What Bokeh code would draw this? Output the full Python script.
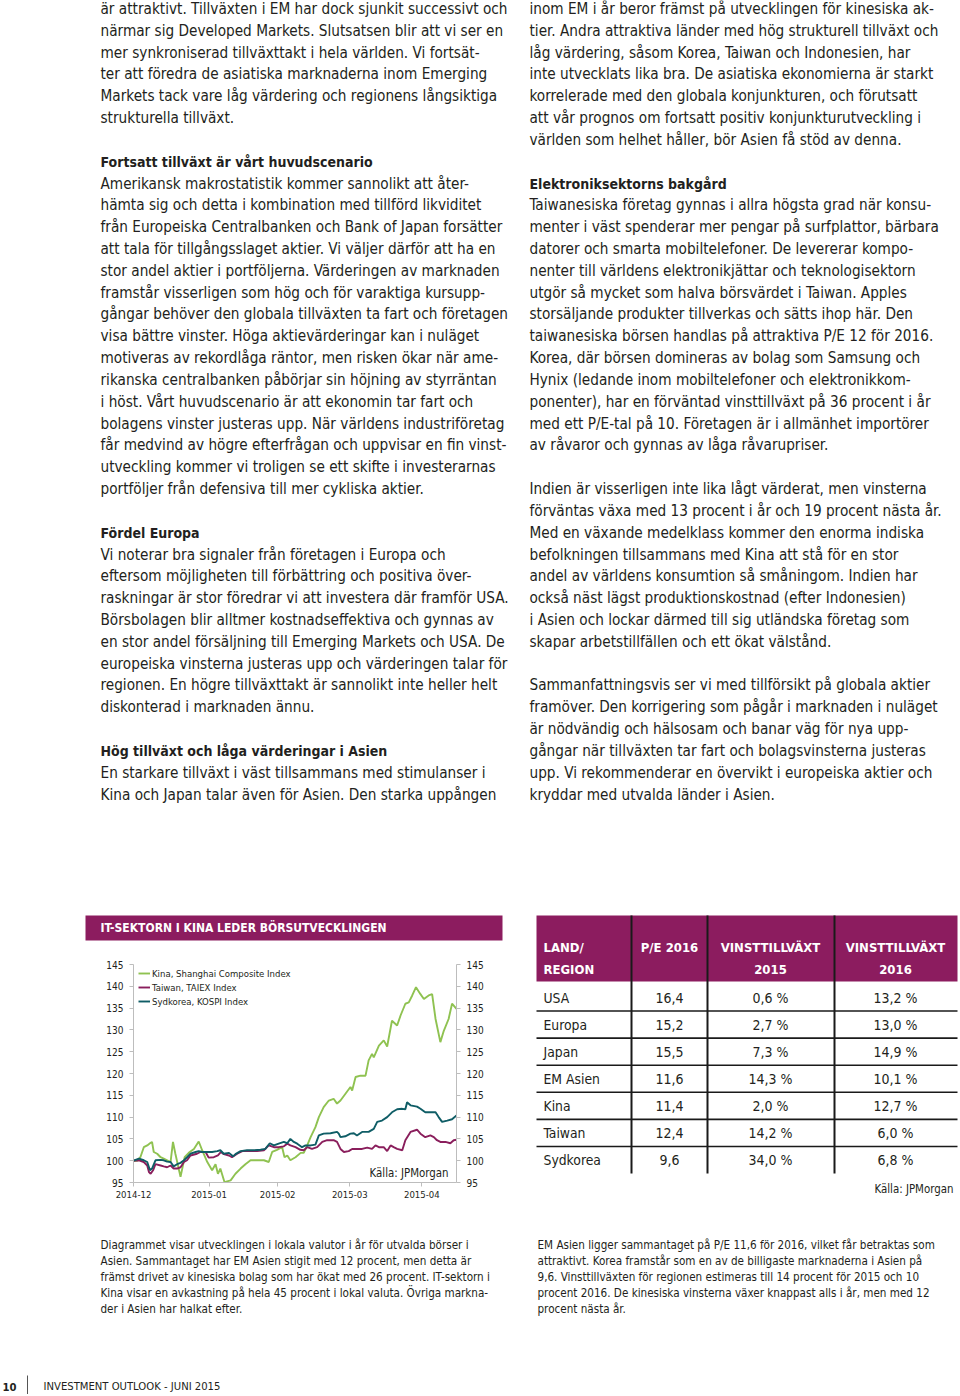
from bokeh.plotting import figure
from bokeh.models import Range1d, FixedTicker, LinearAxis, Label, ColumnDataSource
from bokeh.layouts import column, row
from bokeh.core.properties import value
from bokeh.embed import file_html
from bokeh.resources import INLINE

# ---------------- data ----------------
# Chart: indexed stock markets (trading-day index from 2014-12-01)
month_ticks = [0, 22, 42, 63, 84]
month_labels = ["2014-12", "2015-01", "2015-02", "2015-03", "2015-04"]
y_ticks = [95, 100, 105, 110, 115, 120, 125, 130, 135, 140, 145]

kina_x = [0, 1.1, 2.0, 3.0, 4.0, 5.0, 5.4, 5.9, 6.9, 7.9,
          8.8, 9.8, 10.8, 11.5, 12.2, 13.7, 14.9, 16.1, 17.6, 19.0,
          20.0, 21.5, 22.9, 23.9, 24.6, 25.3, 26.5, 28.3, 29.7, 31.2,
          32.6, 34.1, 36.0, 38.0, 39.4, 40.4, 41.8, 43.3, 44.0, 44.8,
          45.7, 47.2, 48.7, 49.6, 50.6, 51.6, 53.0, 54.0, 55.4, 56.9,
          58.3, 59.3, 60.3, 61.7, 63.2, 63.7, 64.7, 66.1, 67.6, 68.5,
          69.5, 70.0, 71.5, 72.9, 73.9, 75.3, 76.8, 77.8, 79.2, 80.2,
          81.2, 82.3, 83.6, 84.6, 86.0, 87.0, 88.0, 89.4, 90.4, 91.8,
          92.8, 94.1]
kina_y = [100.0, 100.0, 100.8, 103.1, 103.5, 104.1, 104.3, 102.0, 101.6, 100.8,
          100.5, 100.1, 99.7, 104.3, 101.6, 96.3, 100.8, 101.8, 102.7, 104.4,
          102.4, 99.7, 97.8, 99.2, 97.0, 98.2, 95.1, 95.5, 97.0, 98.2,
          99.2, 100.1, 100.1, 100.1, 99.7, 102.0, 102.5, 103.1, 100.8, 101.2,
          100.1, 100.8, 101.8, 101.8, 103.5, 105.4, 107.7, 110.0, 112.3, 113.8,
          114.2, 113.1, 113.8, 115.3, 116.9, 116.1, 119.2, 119.5, 119.5, 123.0,
          124.5, 123.7, 126.4, 127.6, 126.2, 132.1, 131.0, 133.3, 136.0, 136.3,
          137.9, 139.8, 138.2, 137.1, 137.9, 138.2, 132.5, 127.2, 129.8, 132.5,
          136.0, 134.8]

taiwan_x = [0, 1.6, 3.0, 4.0, 4.5, 5.0, 5.7, 6.4, 7.9, 8.8,
            9.8, 10.8, 11.7, 12.7, 13.7, 14.7, 15.6, 16.6, 18.5, 19.5,
            21.0, 21.9, 23.4, 24.6, 25.5, 26.3, 27.8, 28.7, 30.2, 31.7,
            33.6, 36.0, 38.0, 39.4, 40.9, 42.3, 43.8, 44.8, 45.7, 47.2,
            48.6, 49.6, 50.6, 52.0, 53.5, 55.0, 56.4, 58.3, 59.3, 60.3,
            61.3, 62.7, 63.7, 65.1, 66.6, 68.1, 69.5, 70.5, 71.5, 72.9,
            73.9, 74.9, 75.8, 76.8, 78.3, 79.2, 80.7, 82.6, 83.6, 85.0,
            86.5, 87.5, 88.4, 89.4, 90.9, 92.3, 93.3, 94.1]
taiwan_y = [100.0, 100.1, 99.7, 98.9, 97.4, 97.0, 97.8, 99.2, 98.9, 98.7,
            98.5, 98.9, 98.2, 98.2, 98.5, 99.7, 100.1, 101.2, 101.6, 102.0,
            102.0, 100.7, 100.8, 101.2, 102.0, 101.5, 101.2, 100.8, 101.6, 102.2,
            102.2, 102.2, 102.4, 103.5, 103.1, 103.1, 103.3, 103.9, 103.5, 103.1,
            102.5, 102.4, 103.1, 102.7, 103.1, 104.3, 104.7, 104.7, 104.3, 102.7,
            102.0, 102.2, 102.7, 102.7, 102.7, 103.0, 102.7, 103.5, 103.1, 103.1,
            102.2, 103.5, 103.1, 102.7, 102.4, 104.7, 106.6, 107.1, 106.2, 105.4,
            105.8, 105.4, 104.7, 104.3, 104.3, 104.0, 104.7, 104.8]

korea_x = [0, 1.6, 3.0, 4.0, 4.8, 5.4, 6.4, 7.9, 8.8, 9.8,
           10.8, 11.7, 12.7, 13.7, 14.7, 15.6, 16.6, 18.1, 19.0, 20.0,
           21.5, 22.9, 24.4, 25.3, 26.3, 27.8, 29.0, 29.7, 31.2, 33.1,
           35.0, 37.0, 38.4, 39.7, 40.9, 42.3, 43.8, 44.8, 45.7, 46.7,
           47.7, 49.1, 50.1, 51.6, 53.0, 54.0, 55.4, 57.4, 59.3, 59.8,
           60.3, 61.7, 63.2, 64.2, 65.1, 66.6, 68.5, 70.0, 71.0, 72.4,
           73.9, 75.3, 76.8, 78.3, 79.2, 79.7, 80.7, 82.6, 83.6, 85.0,
           86.5, 88.0, 88.9, 89.9, 91.4, 92.8, 94.1]
korea_y = [100.0, 100.5, 100.1, 99.7, 97.8, 98.2, 100.1, 100.2, 100.1, 99.8,
           99.7, 98.7, 99.2, 99.5, 100.1, 100.8, 101.6, 102.0, 102.2, 102.0,
           102.0, 102.0, 102.2, 102.4, 101.6, 101.8, 101.0, 101.5, 102.2, 102.4,
           102.4, 102.5, 102.7, 104.0, 103.5, 103.9, 104.3, 104.0, 105.0, 104.3,
           103.9, 103.1, 103.5, 103.5, 103.7, 105.8, 106.2, 106.3, 106.6, 106.2,
           105.4, 105.6, 106.2, 106.3, 105.8, 106.6, 106.6, 107.3, 108.9, 109.2,
           110.0, 111.1, 111.8, 111.9, 111.8, 113.4, 112.7, 112.4, 111.9, 111.1,
           111.1, 111.1, 110.0, 108.9, 109.2, 109.5, 110.4]

series_names = ["Kina, Shanghai Composite Index", "Taiwan, TAIEX Index", "Sydkorea, KOSPI Index"]

# Table
table_header = [["LAND/", "REGION"], ["P/E 2016"], ["VINSTTILLVÄXT", "2015"], ["VINSTTILLVÄXT", "2016"]]
regions = ["USA", "Europa", "Japan", "EM Asien", "Kina", "Taiwan", "Sydkorea"]
pe_2016 = [16.4, 15.2, 15.5, 11.6, 11.4, 12.4, 9.6]
growth_2015 = [0.6, 2.7, 7.3, 14.3, 2.0, 14.2, 34.0]
growth_2016 = [13.2, 13.0, 14.9, 10.1, 12.7, 6.0, 6.8]

# Texts
chart_title = "IT-SEKTORN I KINA LEDER BÖRSUTVECKLINGEN"
source_note = "Källa: JPMorgan"

left_col = [
    "är attraktivt. Tillväxten i EM har dock sjunkit successivt och",
    "närmar sig Developed Markets. Slutsatsen blir att vi ser en",
    "mer synkroniserad tillväxttakt i hela världen. Vi fortsät-",
    "ter att föredra de asiatiska marknaderna inom Emerging",
    "Markets tack vare låg värdering och regionens långsiktiga",
    "strukturella tillväxt.",
    "",
    "Fortsatt tillväxt är vårt huvudscenario",
    "Amerikansk makrostatistik kommer sannolikt att åter-",
    "hämta sig och detta i kombination med tillförd likviditet",
    "från Europeiska Centralbanken och Bank of Japan forsätter",
    "att tala för tillgångsslaget aktier. Vi väljer därför att ha en",
    "stor andel aktier i portföljerna. Värderingen av marknaden",
    "framstår visserligen som hög och för varaktiga kursupp-",
    "gångar behöver den globala tillväxten ta fart och företagen",
    "visa bättre vinster. Höga aktievärderingar kan i nuläget",
    "motiveras av rekordlåga räntor, men risken ökar när ame-",
    "rikanska centralbanken påbörjar sin höjning av styrräntan",
    "i höst. Vårt huvudscenario är att ekonomin tar fart och",
    "bolagens vinster justeras upp. När världens industriföretag",
    "får medvind av högre efterfrågan och uppvisar en fin vinst-",
    "utveckling kommer vi troligen se ett skifte i investerarnas",
    "portföljer från defensiva till mer cykliska aktier.",
    "",
    "Fördel Europa",
    "Vi noterar bra signaler från företagen i Europa och",
    "eftersom möjligheten till förbättring och positiva över-",
    "raskningar är stor föredrar vi att investera där framför USA.",
    "Börsbolagen blir alltmer kostnadseffektiva och gynnas av",
    "en stor andel försäljning till Emerging Markets och USA. De",
    "europeiska vinsterna justeras upp och värderingen talar för",
    "regionen. En högre tillväxttakt är sannolikt inte heller helt",
    "diskonterad i marknaden ännu.",
    "",
    "Hög tillväxt och låga värderingar i Asien",
    "En starkare tillväxt i väst tillsammans med stimulanser i",
    "Kina och Japan talar även för Asien. Den starka uppången",
]
left_headings = [7, 24, 34]

right_col = [
    "inom EM i år beror främst på utvecklingen för kinesiska ak-",
    "tier. Andra attraktiva länder med hög strukturell tillväxt och",
    "låg värdering, såsom Korea, Taiwan och Indonesien, har",
    "inte utvecklats lika bra. De asiatiska ekonomierna är starkt",
    "korrelerade med den globala konjunkturen, och förutsatt",
    "att vår prognos om fortsatt positiv konjunkturutveckling i",
    "världen som helhet håller, bör Asien få stöd av denna.",
    "",
    "Elektroniksektorns bakgård",
    "Taiwanesiska företag gynnas i allra högsta grad när konsu-",
    "menter i väst spenderar mer pengar på surfplattor, bärbara",
    "datorer och smarta mobiltelefoner. De levererar kompo-",
    "nenter till världens elektronikjättar och teknologisektorn",
    "utgör så mycket som halva börsvärdet i Taiwan. Apples",
    "storsäljande produkter tillverkas och sätts ihop här. Den",
    "taiwanesiska börsen handlas på attraktiva P/E 12 för 2016.",
    "Korea, där börsen domineras av bolag som Samsung och",
    "Hynix (ledande inom mobiltelefoner och elektronikkom-",
    "ponenter), har en förväntad vinsttillväxt på 36 procent i år",
    "med ett P/E-tal på 10. Företagen är i allmänhet importörer",
    "av råvaror och gynnas av låga råvarupriser.",
    "",
    "Indien är visserligen inte lika lågt värderat, men vinsterna",
    "förväntas växa med 13 procent i år och 19 procent nästa år.",
    "Med en växande medelklass kommer den enorma indiska",
    "befolkningen tillsammans med Kina att stå för en stor",
    "andel av världens konsumtion så småningom. Indien har",
    "också näst lägst produktionskostnad (efter Indonesien)",
    "i Asien och lockar därmed till sig utländska företag som",
    "skapar arbetstillfällen och ett ökat välstånd.",
    "",
    "Sammanfattningsvis ser vi med tillförsikt på globala aktier",
    "framöver. Den korrigering som pågår i marknaden i nuläget",
    "är nödvändig och hälsosam och banar väg för nya upp-",
    "gångar när tillväxten tar fart och bolagsvinsterna justeras",
    "upp. Vi rekommenderar en övervikt i europeiska aktier och",
    "kryddar med utvalda länder i Asien.",
]
right_headings = [8]

caption_left = [
    "Diagrammet visar utvecklingen i lokala valutor i år för utvalda börser i",
    "Asien. Sammantaget har EM Asien stigit med 12 procent, men detta är",
    "främst drivet av kinesiska bolag som har ökat med 26 procent. IT-sektorn i",
    "Kina visar en avkastning på hela 45 procent i lokal valuta. Övriga markna-",
    "der i Asien har halkat efter.",
]
caption_right = [
    "EM Asien ligger sammantaget på P/E 11,6 för 2016, vilket får betraktas som",
    "attraktivt. Korea framstår som en av de billigaste marknaderna i Asien på",
    "9,6. Vinsttillväxten för regionen estimeras till 14 procent för 2015 och 10",
    "procent 2016. De kinesiska vinsterna växer knappast alls i år, men med 12",
    "procent nästa år.",
]
page_number = "10"
footer = "INVESTMENT OUTLOOK - JUNI 2015"

# ---------------- style ----------------
FONT = "DejaVu Sans Condensed"
INK = "#231F20"
PLUM = "#8C1C5F"
GREEN = "#8FC251"
PURPLE = "#8A1E5C"
TEAL = "#0F5D66"
AXIS = "#BDBDBD"


def page_fig(w, h, x0, x1, y0, y1):
    p = figure(width=w, height=h, x_range=Range1d(x0, x1), y_range=Range1d(y1, y0),
               output_backend="svg", toolbar_location=None,
               x_axis_location=None, y_axis_location=None, min_border=0,
               outline_line_color=None, frame_align=False)
    p.grid.visible = False
    return p


def add_text(p, xs, ys, texts, size, color=INK, style="normal", align="left"):
    src = ColumnDataSource(dict(x=xs, y=ys, text=texts))
    p.text(x="x", y="y", text="text", source=src, text_font=value(FONT),
           text_font_size=value(size), text_font_style=style, text_color=color,
           text_align=align, text_baseline="middle")


# ---------------- top: article text ----------------
top = page_fig(960, 908, 0, 960, 0, 908)
PITCH = 21.82
for col_x, lines, heads in ((100, left_col, left_headings), (529, right_col, right_headings)):
    bx, by, bt, hx, hy, ht = [], [], [], [], [], []
    for i, t in enumerate(lines):
        if not t:
            continue
        y = 8.5 + PITCH * i
        if i in heads:
            hx.append(col_x); hy.append(y); ht.append(t)
        else:
            bx.append(col_x); by.append(y); bt.append(t)
    add_text(top, bx, by, bt, "15.2px")
    add_text(top, hx, hy, ht, "14px", style="bold")

# ---------------- chart title bar ----------------
tfig = page_fig(520, 37, 0, 520, 908, 945)
tfig.quad(left=85, right=502, top=915, bottom=940, fill_color=PLUM, line_color=None)
add_text(tfig, [100], [927.5], [chart_title], "12px", color="white", style="bold")

# ---------------- line chart ----------------
chart = figure(width=520, height=275, x_range=Range1d(0, 94.1), y_range=Range1d(95, 145),
               output_backend="svg", toolbar_location=None, frame_align=False,
               min_border_left=133, min_border_right=64, min_border_top=19, min_border_bottom=38,
               outline_line_color=None)
chart.grid.visible = False
for xs, ys, c, name in ((kina_x, kina_y, GREEN, series_names[0]),
                        (taiwan_x, taiwan_y, PURPLE, series_names[1]),
                        (korea_x, korea_y, TEAL, series_names[2])):
    chart.line(xs, ys, line_color=c, line_width=1.9, legend_label=name)

right_axis = LinearAxis()
chart.add_layout(right_axis, "right")
for ax in chart.yaxis:
    ax.ticker = FixedTicker(ticks=y_ticks)
for ax in list(chart.yaxis) + list(chart.xaxis):
    ax.axis_line_color = AXIS
    ax.major_tick_line_color = AXIS
    ax.major_tick_out = 4
    ax.major_tick_in = 0
    ax.minor_tick_line_color = None
    ax.major_label_text_font = FONT
    ax.major_label_text_font_size = "10px"
    ax.major_label_text_color = INK
    ax.major_label_standoff = 6
xax = chart.xaxis[0]
xax.ticker = FixedTicker(ticks=month_ticks)
xax.major_label_overrides = {t: l for t, l in zip(month_ticks, month_labels)}
xax.major_label_standoff = 4
xax.major_label_text_font_size = "9.5px"

lg = chart.legend[0]
lg.location = (5, 175)
lg.margin = 0
lg.padding = 1
lg.spacing = 2
lg.glyph_width = 12
lg.glyph_height = 12
lg.label_height = 12
lg.label_standoff = 2
lg.label_text_font = FONT
lg.label_text_font_size = "9.5px"
lg.label_text_color = INK
lg.background_fill_alpha = 0
lg.border_line_color = None

chart.add_layout(Label(x=91.8, y=97.1, text=source_note, text_font=FONT, text_font_size="11.4px",
                       text_color=INK, text_align="right", text_baseline="middle"))

# ---------------- table ----------------
tab = page_fig(440, 312, 520, 960, 908, 1220)
col_edges = [536, 631, 707, 834, 957]
col_centers = [543, 669, 770, 895]
row_y = [997 + 27.1 * i for i in range(len(regions))]
tab.quad(left=col_edges[0], right=col_edges[-1], top=915, bottom=981, fill_color=PLUM, line_color=None)
# horizontal rules between rows
tab.segment(x0=[col_edges[0]] * (len(regions) - 1), x1=[col_edges[-1]] * (len(regions) - 1),
            y0=[y + 13.5 for y in row_y[:-1]], y1=[y + 13.5 for y in row_y[:-1]],
            line_color="#1A1A1A", line_width=1.6)
# vertical rules
tab.segment(x0=col_edges[1:-1], x1=col_edges[1:-1], y0=[915] * 3, y1=[1173] * 3,
            line_color="#1A1A1A", line_width=2)
for j, hdr in enumerate(table_header):
    for k, t in enumerate(hdr):
        add_text(tab, [col_centers[j]], [946.5 + 22.5 * k], [t], "13px", color="white", style="bold",
                 align="left" if j == 0 else "center")
fmt = lambda v: f"{v:.1f}".replace(".", ",")
add_text(tab, [col_centers[0]] * len(regions), row_y, regions, "13.8px")
add_text(tab, [col_centers[1]] * len(regions), row_y, [fmt(v) for v in pe_2016], "14px", align="center")
add_text(tab, [col_centers[2]] * len(regions), row_y, [fmt(v) + " %" for v in growth_2015], "14px", align="center")
add_text(tab, [col_centers[3]] * len(regions), row_y, [fmt(v) + " %" for v in growth_2016], "14px", align="center")
add_text(tab, [953], [1188], [source_note], "11.4px", align="right")

# ---------------- bottom: captions + footer ----------------
bot = page_fig(960, 174, 0, 960, 1220, 1394)
cap_y = [1244 + 16 * i for i in range(len(caption_left))]
add_text(bot, [100] * len(caption_left), cap_y, caption_left, "11.6px")
add_text(bot, [537] * len(caption_right), cap_y, caption_right, "11.6px")
bot.segment(x0=[27], x1=[27], y0=[1375], y1=[1394], line_color="#555555", line_width=1)
add_text(bot, [2], [1386], [page_number], "11.2px", style="bold")
add_text(bot, [43], [1386], [footer], "11.2px")

layout = column(top, row(column(tfig, chart), tab), bot)
open("out.html", "w").write(file_html(layout, INLINE))
